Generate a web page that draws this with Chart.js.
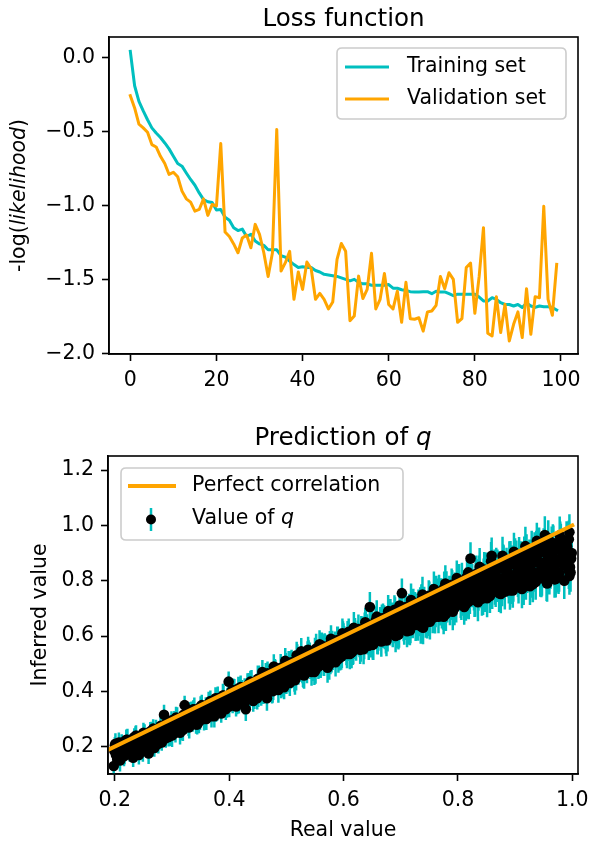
<!DOCTYPE html>
<html><head><meta charset="utf-8">
<script src="https://cdn.jsdelivr.net/npm/chart.js@4.4.1/dist/chart.umd.min.js"></script>
<style>
html,body{margin:0;padding:0;background:#fff;}
#wrap{position:relative;width:590px;height:845px;overflow:hidden;}
canvas{position:absolute;left:0;display:block;}
#c1{top:0;}
#c2{top:395px;}
</style></head><body>
<div id="wrap">
<canvas id="c1" width="590" height="395"></canvas>
<canvas id="c2" width="590" height="450"></canvas>
</div>
<script>
// ---------- Data: loss curves ----------
const trainingLoss = [
 0.043,-0.19,-0.295,-0.36,-0.42,-0.475,-0.51,-0.54,-0.577,-0.617,
 -0.667,-0.716,-0.734,-0.78,-0.824,-0.863,-0.915,-0.96,-0.975,-0.98,
 -1.03,-1.027,-1.08,-1.10,-1.15,-1.17,-1.16,-1.21,-1.195,-1.24,
 -1.26,-1.27,-1.30,-1.30,-1.30,-1.34,-1.35,-1.376,-1.40,-1.42,
 -1.415,-1.42,-1.42,-1.44,-1.45,-1.466,-1.47,-1.475,-1.48,-1.49,
 -1.50,-1.51,-1.50,-1.52,-1.53,-1.53,-1.54,-1.54,-1.54,-1.54,
 -1.535,-1.56,-1.56,-1.57,-1.575,-1.583,-1.585,-1.585,-1.583,-1.583,
 -1.597,-1.58,-1.585,-1.585,-1.597,-1.61,-1.60,-1.60,-1.60,-1.60,
 -1.60,-1.62,-1.646,-1.646,-1.624,-1.635,-1.658,-1.67,-1.67,-1.68,
 -1.67,-1.69,-1.66,-1.68,-1.69,-1.68,-1.685,-1.685,-1.69,-1.707
];
const validationLoss = [
 -0.257,-0.34,-0.45,-0.475,-0.505,-0.588,-0.604,-0.667,-0.716,-0.79,
 -0.775,-0.806,-0.903,-0.955,-0.977,-1.038,-1.027,-0.955,-1.067,-0.993,
 -1.004,-0.581,-1.18,-1.21,-1.26,-1.32,-1.22,-1.20,-1.286,-1.128,
 -1.196,-1.32,-1.48,-1.32,-0.486,-1.444,-1.387,-1.31,-1.635,-1.45,
 -1.568,-1.383,-1.428,-1.635,-1.595,-1.635,-1.70,-1.653,-1.365,-1.257,
 -1.31,-1.78,-1.748,-1.478,-1.63,-1.568,-1.324,-1.70,-1.635,-1.46,
 -1.67,-1.70,-1.58,-1.79,-1.52,-1.766,-1.77,-1.76,-1.85,-1.72,
 -1.714,-1.676,-1.48,-1.563,-1.455,-1.50,-1.79,-1.766,-1.42,-1.39,
 -1.73,-1.48,-1.15,-1.865,-1.883,-1.617,-1.86,-1.669,-1.917,-1.804,
 -1.72,-1.894,-1.563,-1.872,-1.617,-1.624,-1.005,-1.635,-1.743,-1.399
];
const epochs = trainingLoss.map((_, i) => i);
const lossXTicks = [0, 20, 40, 60, 80, 100];
const lossYTicks = [0, -0.5, -1.0, -1.5, -2.0];

// ---------- Data: prediction of q ----------
const realValues = [
 0.198,0.200,0.202,0.206,0.209,0.212,0.216,0.219,0.222,0.226,0.229,0.232,0.236,0.239,0.242,0.246,0.249,0.252,0.256,0.259,0.262,0.266,0.269,0.272,0.276,0.279,0.282,0.286,0.289,0.292,
 0.296,0.299,0.302,0.306,0.309,0.312,0.316,0.319,0.322,0.326,0.329,0.332,0.336,0.339,0.342,0.346,0.349,0.352,0.356,0.359,0.362,0.366,0.369,0.372,0.376,0.379,0.382,0.386,0.389,0.392,
 0.396,0.399,0.402,0.406,0.409,0.412,0.416,0.419,0.422,0.426,0.429,0.432,0.436,0.439,0.442,0.446,0.449,0.452,0.456,0.459,0.462,0.466,0.469,0.472,0.476,0.479,0.482,0.486,0.489,0.492,
 0.496,0.499,0.502,0.506,0.509,0.512,0.516,0.519,0.522,0.526,0.529,0.532,0.536,0.539,0.542,0.546,0.549,0.552,0.556,0.559,0.562,0.566,0.569,0.572,0.576,0.579,0.582,0.586,0.589,0.592,
 0.596,0.599,0.602,0.606,0.609,0.612,0.616,0.619,0.622,0.626,0.629,0.632,0.636,0.639,0.642,0.646,0.649,0.652,0.656,0.659,0.662,0.666,0.669,0.672,0.676,0.679,0.682,0.686,0.689,0.692,
 0.696,0.699,0.702,0.706,0.709,0.712,0.716,0.719,0.722,0.726,0.729,0.732,0.736,0.739,0.742,0.746,0.749,0.752,0.756,0.759,0.762,0.766,0.769,0.772,0.776,0.779,0.782,0.786,0.789,0.792,
 0.796,0.799,0.802,0.806,0.809,0.812,0.816,0.819,0.822,0.826,0.829,0.832,0.836,0.839,0.842,0.846,0.849,0.852,0.856,0.859,0.862,0.866,0.869,0.872,0.876,0.879,0.882,0.886,0.889,0.892,
 0.896,0.899,0.902,0.906,0.909,0.912,0.916,0.919,0.922,0.926,0.929,0.932,0.936,0.939,0.942,0.946,0.949,0.952,0.956,0.959,0.962,0.966,0.969,0.972,0.976,0.979,0.982,0.986,0.989,0.992,
 0.995,0.997,0.999,
 0.199,0.201,0.204,0.207,0.210,0.214,0.217,0.220,0.224,0.227,0.230,0.234,0.237,0.240,0.244,0.247,0.250,0.254,0.257,0.260,0.264,0.267,0.270,0.274,0.277,0.280,0.284,0.287,0.290,0.294,
 0.297,0.300,0.304,0.307,0.310,0.314,0.317,0.320,0.324,0.327,0.330,0.334,0.337,0.340,0.344,0.347,0.350,0.354,0.357,0.360,0.364,0.367,0.370,0.374,0.377,0.380,0.384,0.387,0.390,0.394,
 0.397,0.400,0.404,0.407,0.410,0.414,0.417,0.420,0.424,0.427,0.430,0.434,0.437,0.440,0.444,0.447,0.450,0.454,0.457,0.460,0.464,0.467,0.470,0.474,0.477,0.480,0.484,0.487,0.490,0.494,
 0.497,0.500,0.504,0.507,0.510,0.514,0.517,0.520,0.524,0.527,0.530,0.534,0.537,0.540,0.544,0.547,0.550,0.554,0.557,0.560,0.564,0.567,0.570,0.574,0.577,0.580,0.584,0.587,0.590,0.594,
 0.597,0.600,0.604,0.607,0.610,0.614,0.617,0.620,0.624,0.627,0.630,0.634,0.637,0.640,0.644,0.647,0.650,0.654,0.657,0.660,0.664,0.667,0.670,0.674,0.677,0.680,0.684,0.687,0.690,0.694,
 0.697,0.700,0.704,0.707,0.710,0.714,0.717,0.720,0.724,0.727,0.730,0.734,0.737,0.740,0.744,0.747,0.750,0.754,0.757,0.760,0.764,0.767,0.770,0.774,0.777,0.780,0.784,0.787,0.790,0.794,
 0.797,0.800,0.804,0.807,0.810,0.814,0.817,0.820,0.824,0.827,0.830,0.834,0.837,0.840,0.844,0.847,0.850,0.854,0.857,0.860,0.864,0.867,0.870,0.874,0.877,0.880,0.884,0.887,0.890,0.894,
 0.897,0.900,0.904,0.907,0.910,0.914,0.917,0.920,0.924,0.927,0.930,0.934,0.937,0.940,0.944,0.947,0.950,0.954,0.957,0.960,0.964,0.967,0.970,0.974,0.977,0.980,0.984,0.987,0.990,0.994,
 0.994,0.996,0.998,
 0.448,0.451,0.455,0.458,0.461,0.465,0.468,0.471,0.475,0.478,0.481,0.485,0.488,0.491,0.495,
 0.498,0.501,0.505,0.508,0.511,0.515,0.518,0.521,0.525,0.528,0.531,0.535,0.538,0.541,0.545,0.548,0.551,0.555,0.558,0.561,0.565,0.568,0.571,0.575,0.578,0.581,0.585,0.588,0.591,0.595,
 0.598,0.601,0.605,0.608,0.611,0.615,0.618,0.621,0.625,0.628,0.631,0.635,0.638,0.641,0.645,0.648,0.651,0.655,0.658,0.661,0.665,0.668,0.671,0.675,0.678,0.681,0.685,0.688,0.691,0.695,
 0.698,0.701,0.705,0.708,0.711,0.715,0.718,0.721,0.725,0.728,0.731,0.735,0.738,0.741,0.745,0.748,0.751,0.755,0.758,0.761,0.765,0.768,0.771,0.775,0.778,0.781,0.785,0.788,0.791,0.795,
 0.798,0.801,0.805,0.808,0.811,0.815,0.818,0.821,0.825,0.828,0.831,0.835,0.838,0.841,0.845,0.848,0.851,0.855,0.858,0.861,0.865,0.868,0.871,0.875,0.878,0.881,0.885,0.888,0.891,0.895,
 0.898,0.901,0.905,0.908,0.911,0.915,0.918,0.921,0.925,0.928,0.931,0.935,0.938,0.941,0.945,0.948,0.951,0.955,0.958,0.961,0.965,0.968,0.971,0.975,0.978,0.981,0.985,0.988,0.991,0.995
];
const inferredValues = [
 0.13,0.205,0.17,0.19,0.15,0.215,0.165,0.20,0.225,0.175,0.21,0.16,0.235,0.19,0.17,0.22,0.185,0.245,0.20,0.175,0.255,0.225,0.195,0.26,0.21,0.245,0.215,0.315,0.23,0.255,
 0.24,0.295,0.265,0.25,0.30,0.27,0.285,0.26,0.35,0.31,0.27,0.32,0.29,0.335,0.28,0.32,0.295,0.35,0.30,0.345,0.325,0.36,0.31,0.34,0.375,0.33,0.355,0.32,0.385,0.36,
 0.345,0.435,0.39,0.36,0.40,0.345,0.41,0.375,0.395,0.355,0.335,0.42,0.38,0.43,0.365,0.405,0.375,0.445,0.39,0.435,0.41,0.375,0.455,0.42,0.40,0.465,0.43,0.405,0.445,0.475,
 0.415,0.49,0.44,0.43,0.505,0.465,0.45,0.52,0.48,0.545,0.46,0.50,0.475,0.535,0.49,0.51,0.47,0.555,0.49,0.53,0.565,0.505,0.545,0.485,0.57,0.52,0.55,0.505,0.585,0.54,
 0.525,0.60,0.56,0.535,0.615,0.57,0.545,0.59,0.56,0.625,0.55,0.60,0.565,0.64,0.585,0.705,0.61,0.57,0.655,0.59,0.625,0.58,0.665,0.61,0.60,0.645,0.68,0.615,0.695,0.64,
 0.605,0.67,0.755,0.625,0.705,0.65,0.62,0.685,0.715,0.64,0.70,0.66,0.73,0.63,0.68,0.65,0.745,0.70,0.665,0.72,0.76,0.67,0.74,0.69,0.775,0.68,0.72,0.70,0.785,0.745,
 0.71,0.765,0.80,0.72,0.78,0.745,0.815,0.725,0.88,0.77,0.73,0.825,0.75,0.80,0.735,0.84,0.76,0.79,0.745,0.89,0.815,0.77,0.85,0.755,0.80,0.865,0.76,0.835,0.78,0.875,
 0.765,0.82,0.88,0.785,0.85,0.77,0.895,0.80,0.86,0.78,0.915,0.83,0.795,0.875,0.925,0.81,0.855,0.965,0.79,0.90,0.835,0.935,0.805,0.87,0.82,0.95,0.885,0.80,0.92,0.86,
 0.975,0.83,0.90,
 0.185,0.21,0.155,0.215,0.165,0.19,0.17,0.225,0.20,0.205,0.18,0.235,0.24,0.21,0.19,0.195,0.25,0.225,0.23,0.205,0.255,0.265,0.24,0.21,0.225,0.275,0.25,0.26,0.285,0.235,
 0.27,0.24,0.295,0.305,0.28,0.25,0.26,0.315,0.29,0.30,0.27,0.325,0.335,0.31,0.28,0.29,0.345,0.32,0.33,0.30,0.355,0.365,0.34,0.31,0.325,0.375,0.35,0.36,0.385,0.335,
 0.37,0.345,0.40,0.405,0.38,0.355,0.365,0.415,0.39,0.40,0.37,0.425,0.435,0.405,0.38,0.39,0.445,0.415,0.425,0.395,0.455,0.465,0.435,0.405,0.415,0.475,0.445,0.455,0.485,0.425,
 0.465,0.435,0.495,0.50,0.475,0.445,0.455,0.51,0.48,0.49,0.465,0.52,0.53,0.50,0.47,0.485,0.54,0.515,0.52,0.495,0.555,0.56,0.535,0.50,0.515,0.57,0.545,0.555,0.58,0.525,
 0.535,0.59,0.565,0.60,0.57,0.54,0.55,0.61,0.58,0.59,0.56,0.62,0.63,0.60,0.565,0.575,0.64,0.61,0.62,0.585,0.65,0.66,0.625,0.59,0.60,0.67,0.635,0.645,0.68,0.61,
 0.615,0.69,0.655,0.70,0.66,0.625,0.635,0.71,0.67,0.68,0.645,0.72,0.73,0.69,0.655,0.66,0.74,0.70,0.71,0.67,0.75,0.76,0.72,0.68,0.69,0.77,0.73,0.74,0.78,0.70,
 0.71,0.79,0.75,0.80,0.755,0.715,0.725,0.81,0.765,0.775,0.735,0.815,0.825,0.785,0.74,0.75,0.835,0.795,0.80,0.76,0.845,0.855,0.81,0.765,0.775,0.865,0.82,0.83,0.875,0.78,
 0.79,0.885,0.835,0.89,0.84,0.795,0.80,0.90,0.85,0.855,0.805,0.91,0.915,0.865,0.81,0.815,0.925,0.87,0.875,0.82,0.93,0.935,0.88,0.825,0.83,0.94,0.885,0.89,0.945,0.835,
 0.95,0.85,0.88,
 0.405,0.385,0.44,0.47,0.415,0.445,0.425,0.455,0.405,0.49,0.465,0.435,0.445,0.42,0.475,
 0.51,0.45,0.485,0.46,0.495,0.44,0.53,0.47,0.505,0.48,0.457,0.515,0.55,0.525,0.49,0.50,0.477,0.535,0.57,0.51,0.545,0.52,0.555,0.497,0.59,0.53,0.565,0.54,0.517,0.575,
 0.61,0.585,0.55,0.56,0.535,0.595,0.63,0.57,0.605,0.578,0.614,0.552,0.65,0.623,0.586,0.594,0.568,0.632,0.67,0.603,0.642,0.612,0.651,0.584,0.69,0.62,0.66,0.63,0.60,0.67,
 0.71,0.68,0.638,0.647,0.617,0.69,0.73,0.656,0.70,0.665,0.71,0.635,0.75,0.718,0.675,0.684,0.652,0.728,0.77,0.693,0.738,0.703,0.747,0.67,0.79,0.712,0.757,0.722,0.688,0.767,
 0.81,0.776,0.73,0.74,0.705,0.786,0.83,0.748,0.795,0.756,0.805,0.722,0.85,0.765,0.814,0.774,0.737,0.824,0.87,0.833,0.781,0.79,0.842,0.752,0.89,0.797,0.851,0.805,0.765,0.86,
 0.905,0.866,0.811,0.818,0.874,0.777,0.925,0.824,0.883,0.831,0.787,0.891,0.944,0.899,0.837,0.842,0.904,0.797,0.954,0.847,0.909,0.852,0.806,0.914,0.964,0.919,0.857,0.862,0.924,0.817
];
const inferredErrors = [
 0.035,0.03,0.038,0.032,0.04,0.03,0.036,0.033,0.04,0.03,0.037,0.034,0.039,0.031,0.035,0.033,0.04,0.036,0.03,0.038,0.034,0.041,0.032,0.037,0.035,0.039,0.03,0.036,0.034,0.04,
 0.038,0.033,0.04,0.035,0.042,0.031,0.037,0.04,0.034,0.039,0.032,0.041,0.036,0.043,0.033,0.04,0.035,0.038,0.042,0.034,0.039,0.037,0.041,0.035,0.04,0.036,0.043,0.034,0.042,0.038,
 0.041,0.037,0.044,0.039,0.045,0.036,0.043,0.04,0.046,0.038,0.042,0.045,0.04,0.047,0.039,0.044,0.041,0.048,0.042,0.046,0.04,0.045,0.043,0.049,0.041,0.047,0.044,0.046,0.042,0.05,
 0.044,0.049,0.043,0.047,0.045,0.051,0.043,0.05,0.046,0.048,0.044,0.052,0.046,0.05,0.045,0.049,0.047,0.053,0.045,0.051,0.048,0.05,0.046,0.054,0.048,0.052,0.047,0.051,0.049,0.055,
 0.047,0.053,0.05,0.052,0.048,0.055,0.05,0.054,0.049,0.053,0.051,0.056,0.049,0.055,0.052,0.054,0.05,0.057,0.052,0.056,0.051,0.055,0.053,0.058,0.051,0.057,0.054,0.056,0.052,0.059,
 0.054,0.058,0.053,0.057,0.055,0.06,0.053,0.059,0.056,0.058,0.054,0.061,0.056,0.06,0.055,0.059,0.057,0.062,0.055,0.061,0.058,0.06,0.056,0.063,0.058,0.062,0.057,0.061,0.059,0.064,
 0.057,0.063,0.06,0.062,0.058,0.065,0.06,0.064,0.059,0.063,0.061,0.066,0.059,0.065,0.062,0.064,0.06,0.067,0.062,0.066,0.061,0.065,0.063,0.068,0.061,0.067,0.064,0.066,0.062,0.069,
 0.063,0.068,0.065,0.067,0.064,0.07,0.065,0.069,0.064,0.068,0.066,0.07,0.064,0.069,0.067,0.07,0.065,0.068,0.066,0.07,0.064,0.069,0.067,0.065,0.068,0.064,0.07,0.066,0.069,0.067,
 0.065,0.07,0.068,
 0.033,0.038,0.031,0.036,0.03,0.039,0.034,0.037,0.032,0.04,0.035,0.031,0.037,0.033,0.039,0.031,0.036,0.034,0.038,0.032,0.035,0.034,0.039,0.031,0.036,0.033,0.038,0.032,0.037,0.035,
 0.036,0.041,0.034,0.039,0.035,0.042,0.037,0.033,0.04,0.035,0.041,0.038,0.033,0.039,0.036,0.042,0.037,0.034,0.036,0.04,0.043,0.038,0.034,0.041,0.035,0.042,0.037,0.04,0.036,0.039,
 0.043,0.039,0.046,0.041,0.044,0.038,0.045,0.042,0.04,0.047,0.043,0.041,0.039,0.046,0.044,0.042,0.048,0.043,0.045,0.041,0.047,0.043,0.049,0.044,0.046,0.042,0.048,0.044,0.05,0.045,
 0.048,0.045,0.051,0.046,0.05,0.047,0.052,0.048,0.045,0.049,0.053,0.047,0.051,0.046,0.05,0.048,0.054,0.049,0.052,0.047,0.051,0.05,0.055,0.048,0.053,0.049,0.052,0.047,0.054,0.05,
 0.051,0.056,0.049,0.054,0.05,0.057,0.052,0.055,0.05,0.057,0.053,0.051,0.055,0.058,0.052,0.053,0.056,0.054,0.058,0.052,0.055,0.054,0.059,0.053,0.056,0.052,0.058,0.055,0.06,0.054,
 0.057,0.055,0.06,0.054,0.059,0.056,0.061,0.057,0.055,0.059,0.062,0.056,0.058,0.055,0.061,0.06,0.057,0.063,0.056,0.061,0.058,0.062,0.059,0.057,0.06,0.064,0.058,0.063,0.058,0.061,
 0.061,0.064,0.059,0.065,0.062,0.06,0.063,0.066,0.061,0.06,0.065,0.063,0.066,0.062,0.064,0.063,0.067,0.061,0.065,0.062,0.068,0.064,0.061,0.066,0.067,0.063,0.065,0.062,0.068,0.064,
 0.066,0.069,0.064,0.068,0.065,0.07,0.064,0.068,0.066,0.07,0.067,0.065,0.066,0.07,0.068,0.069,0.065,0.067,0.067,0.07,0.066,0.065,0.069,0.068,0.07,0.066,0.068,0.067,0.07,0.065,
 0.068,0.066,0.07,
 0.045,0.042,0.047,0.043,0.048,0.044,0.046,0.041,0.049,0.044,0.047,0.043,0.048,0.045,0.05,
 0.047,0.051,0.046,0.05,0.048,0.052,0.049,0.046,0.053,0.051,0.048,0.05,0.047,0.052,0.049,0.053,0.05,0.048,0.051,0.054,0.049,0.052,0.05,0.055,0.049,0.053,0.051,0.054,0.05,0.052,
 0.053,0.051,0.056,0.05,0.055,0.052,0.057,0.053,0.051,0.055,0.058,0.054,0.052,0.056,0.059,0.057,0.054,0.055,0.059,0.056,0.053,0.055,0.06,0.057,0.058,0.054,0.061,0.056,0.059,0.057,
 0.059,0.062,0.057,0.061,0.058,0.063,0.06,0.064,0.059,0.062,0.058,0.063,0.064,0.06,0.062,0.061,0.065,0.06,0.063,0.061,0.066,0.065,0.062,0.064,0.066,0.063,0.061,0.064,0.067,0.063,
 0.063,0.066,0.065,0.067,0.064,0.062,0.065,0.068,0.066,0.064,0.067,0.069,0.068,0.065,0.066,0.066,0.069,0.064,0.07,0.066,0.068,0.067,0.065,0.07,0.069,0.066,0.068,0.065,0.07,0.067,
 0.068,0.066,0.07,0.067,0.069,0.065,0.07,0.068,0.066,0.069,0.065,0.068,0.066,0.07,0.067,0.068,0.066,0.07,0.065,0.069,0.068,0.07,0.067,0.066,0.068,0.07,0.065,0.067,0.069,0.068
];
const perfectLineX = [0.19, 1.0];
const perfectLineY = [0.19, 1.0];
const predXTicks = [0.2, 0.4, 0.6, 0.8, 1.0];
const predYTicks = [0.2, 0.4, 0.6, 0.8, 1.0, 1.2];

// ---------- Styling ----------
const CYAN = '#00bfbf';
const ORANGE = '#ffa500';
const FAM = '"DejaVu Sans"';
const FS = 20.5;
const TITLE_FS = 24.6;

function fmt1(v) { return v.toFixed(1).replace('-', '\u2212'); }

function axisCommon(ticksArr, fmt, fitFn) {
  return {
    type: 'linear',
    afterBuildTicks: s => { s.ticks = ticksArr.map(v => ({ value: v })); },
    afterFit: s => { fitFn(s); s.paddingLeft = 0; s.paddingRight = 0; s.paddingTop = 0; s.paddingBottom = 0; },
    grid: { drawOnChartArea: false, drawTicks: true, tickLength: 7, tickColor: '#000', tickWidth: 1.6 },
    border: { display: true, color: '#000', width: 1.6 },
    ticks: { color: '#000', font: { family: 'DejaVu Sans', size: FS }, padding: 7, maxRotation: 0, minRotation: 0, autoSkip: false, callback: v => fmt(v) }
  };
}

function setFont(ctx, size, italic) { ctx.font = (italic ? 'italic ' : '') + size + 'px ' + FAM; }
function mixedWidth(ctx, parts, size) {
  let w = 0;
  for (const p of parts) { setFont(ctx, size, p.it); w += ctx.measureText(p.t).width; }
  return w;
}
function drawMixed(ctx, parts, x, y, size, align) {
  const w = mixedWidth(ctx, parts, size);
  let cx = align === 'center' ? x - w / 2 : x;
  ctx.textAlign = 'left';
  for (const p of parts) { setFont(ctx, size, p.it); ctx.fillText(p.t, cx, y); cx += ctx.measureText(p.t).width; }
}
function roundRect(ctx, x, y, w, h, r) {
  ctx.beginPath();
  ctx.moveTo(x + r, y); ctx.lineTo(x + w - r, y); ctx.quadraticCurveTo(x + w, y, x + w, y + r);
  ctx.lineTo(x + w, y + h - r); ctx.quadraticCurveTo(x + w, y + h, x + w - r, y + h);
  ctx.lineTo(x + r, y + h); ctx.quadraticCurveTo(x, y + h, x, y + h - r);
  ctx.lineTo(x, y + r); ctx.quadraticCurveTo(x, y, x + r, y); ctx.closePath();
}
function legendBox(ctx, x, y, w, h) {
  roundRect(ctx, x, y, w, h, 5);
  ctx.fillStyle = 'rgba(255,255,255,0.8)'; ctx.fill();
  ctx.strokeStyle = '#cccccc'; ctx.lineWidth = 1.6; ctx.stroke();
}

const framePlugin = {
  id: 'frame',
  afterDraw(chart) {
    const { ctx, chartArea: a } = chart;
    ctx.save(); ctx.strokeStyle = '#000'; ctx.lineWidth = 1.6;
    ctx.strokeRect(a.left, a.top, a.right - a.left, a.bottom - a.top);
    ctx.restore();
  }
};

const lossTextPlugin = {
  id: 'lossText',
  afterDraw(chart) {
    const { ctx, chartArea: a } = chart;
    ctx.save(); ctx.fillStyle = '#000'; ctx.textBaseline = 'alphabetic';
    drawMixed(ctx, [{ t: 'Loss function' }], (a.left + a.right) / 2, 26, TITLE_FS, 'center');
    ctx.save(); ctx.translate(25, (a.top + a.bottom) / 2); ctx.rotate(-Math.PI / 2);
    drawMixed(ctx, [{ t: '-log(' }, { t: 'likelihood', it: true }, { t: ')' }], 0, 0, FS, 'center');
    ctx.restore();
    legendBox(ctx, 337, 48, 229, 71);
    ctx.lineCap = 'butt'; ctx.lineWidth = 3;
    ctx.strokeStyle = CYAN; ctx.beginPath(); ctx.moveTo(345, 67); ctx.lineTo(389, 67); ctx.stroke();
    ctx.strokeStyle = ORANGE; ctx.beginPath(); ctx.moveTo(345, 99); ctx.lineTo(389, 99); ctx.stroke();
    ctx.fillStyle = '#000'; ctx.textBaseline = 'middle';
    drawMixed(ctx, [{ t: 'Training set' }], 407, 67, FS, 'left');
    drawMixed(ctx, [{ t: 'Validation set' }], 407, 99, FS, 'left');
    ctx.restore();
  }
};

const errorBarPlugin = {
  id: 'errorBars',
  beforeDatasetsDraw(chart) {
    const { ctx, chartArea: a, scales } = chart;
    const xs = scales.x, ys = scales.y;
    ctx.save();
    ctx.beginPath(); ctx.rect(a.left, a.top, a.right - a.left, a.bottom - a.top); ctx.clip();
    ctx.strokeStyle = CYAN; ctx.lineWidth = 2.5; ctx.lineCap = 'butt';
    ctx.beginPath();
    for (let i = 0; i < realValues.length; i++) {
      const px = xs.getPixelForValue(realValues[i]);
      ctx.moveTo(px, ys.getPixelForValue(inferredValues[i] - inferredErrors[i]));
      ctx.lineTo(px, ys.getPixelForValue(inferredValues[i] + inferredErrors[i]));
    }
    ctx.stroke();
    ctx.restore();
  }
};

const predTextPlugin = {
  id: 'predText',
  afterDraw(chart) {
    const { ctx, chartArea: a } = chart;
    ctx.save(); ctx.fillStyle = '#000'; ctx.textBaseline = 'alphabetic';
    drawMixed(ctx, [{ t: 'Prediction of ' }, { t: 'q', it: true }], (a.left + a.right) / 2, 50, TITLE_FS, 'center');
    drawMixed(ctx, [{ t: 'Real value' }], (a.left + a.right) / 2, 441, FS, 'center');
    ctx.save(); ctx.translate(46, (a.top + a.bottom) / 2); ctx.rotate(-Math.PI / 2);
    drawMixed(ctx, [{ t: 'Inferred value' }], 0, 0, FS, 'center');
    ctx.restore();
    legendBox(ctx, 121, 73, 282, 72);
    ctx.lineCap = 'butt';
    ctx.strokeStyle = ORANGE; ctx.lineWidth = 4;
    ctx.beginPath(); ctx.moveTo(128, 91); ctx.lineTo(176, 91); ctx.stroke();
    ctx.strokeStyle = CYAN; ctx.lineWidth = 2.5;
    ctx.beginPath(); ctx.moveTo(151, 113); ctx.lineTo(151, 136); ctx.stroke();
    ctx.fillStyle = '#000'; ctx.beginPath(); ctx.arc(151, 124.5, 5, 0, Math.PI * 2); ctx.fill();
    ctx.textBaseline = 'middle';
    drawMixed(ctx, [{ t: 'Perfect correlation' }], 192, 91, FS, 'left');
    drawMixed(ctx, [{ t: 'Value of ' }, { t: 'q', it: true }], 192, 124, FS, 'left');
    ctx.restore();
  }
};

const baseOpts = {
  responsive: false, animation: false, events: [],
  plugins: { legend: { display: false }, tooltip: { enabled: false }, title: { display: false } }
};

new Chart(document.getElementById('c1'), {
  type: 'line',
  data: {
    datasets: [
      { label: 'Training set', data: trainingLoss.map((v, i) => ({ x: epochs[i], y: v })), borderColor: CYAN, borderWidth: 3, pointRadius: 0, tension: 0, fill: false, order: 2, borderJoinStyle: 'round', borderCapStyle: 'square' },
      { label: 'Validation set', data: validationLoss.map((v, i) => ({ x: epochs[i], y: v })), borderColor: ORANGE, borderWidth: 3, pointRadius: 0, tension: 0, fill: false, order: 1, borderJoinStyle: 'round', borderCapStyle: 'square' }
    ]
  },
  options: Object.assign({}, baseOpts, {
    layout: { padding: { left: 0, right: 12, top: 37, bottom: 0 } },
    scales: {
      x: Object.assign(axisCommon(lossXTicks, v => String(Math.round(v)), s => { s.height = 41; }), { min: -4.95, max: 103.95 }),
      y: Object.assign(axisCommon(lossYTicks, fmt1, s => { s.width = 109; }), { min: -2.005, max: 0.14 })
    }
  }),
  plugins: [framePlugin, lossTextPlugin]
});

new Chart(document.getElementById('c2'), {
  type: 'scatter',
  data: {
    datasets: [
      { type: 'line', label: 'Perfect correlation', data: perfectLineX.map((v, i) => ({ x: v, y: perfectLineY[i] })), borderColor: ORANGE, borderWidth: 4, pointRadius: 0, showLine: true, fill: false, order: 0, borderCapStyle: 'square' },
      { type: 'scatter', label: 'Value of q', data: realValues.map((v, i) => ({ x: v, y: inferredValues[i] })), pointRadius: 5.3, pointBackgroundColor: '#000', pointBorderWidth: 0, borderWidth: 0, order: 1 }
    ]
  },
  options: Object.assign({}, baseOpts, {
    layout: { padding: { left: 0, right: 12, top: 61, bottom: 0 } },
    scales: {
      x: Object.assign(axisCommon(predXTicks, fmt1, s => { s.height = 71; }), { min: 0.188, max: 1.01 }),
      y: Object.assign(axisCommon(predYTicks, fmt1, s => { s.width = 108; }), { min: 0.101, max: 1.251 })
    }
  }),
  plugins: [errorBarPlugin, framePlugin, predTextPlugin]
});
</script>
</body></html>
